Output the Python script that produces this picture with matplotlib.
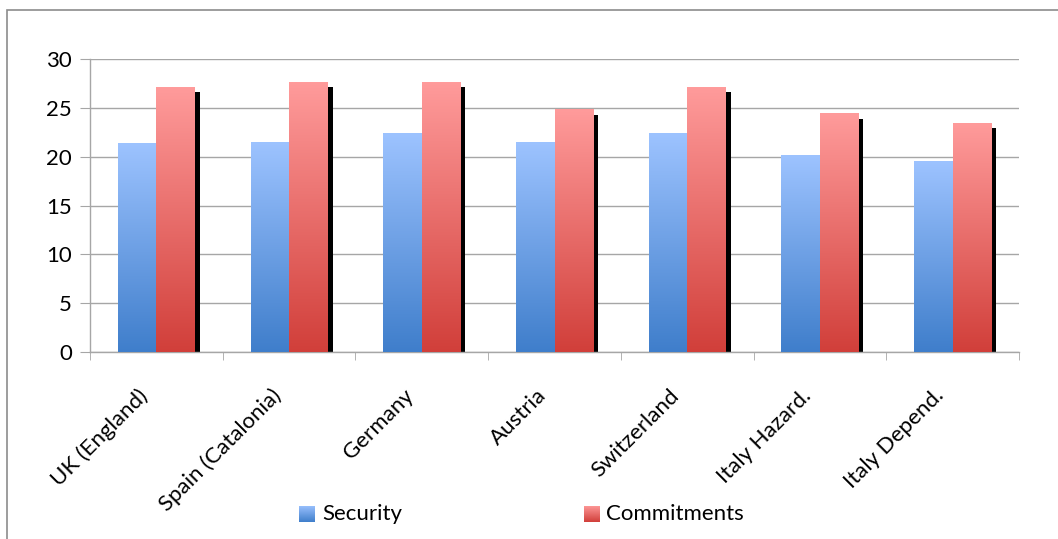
import numpy as np
import matplotlib
matplotlib.use("Agg")
import matplotlib.pyplot as plt
from matplotlib.colors import LinearSegmentedColormap
from matplotlib.patches import Rectangle

plt.rcParams['font.family'] = ['Lato', 'DejaVu Sans']

# data
countries = ["UK (England)", "Spain (Catalonia)", "Germany", "Austria",
             "Switzerland", "Italy Hazard.", "Italy Depend."]
security = [21.3, 21.5, 22.4, 21.5, 22.4, 20.1, 19.5]
commitments = [27.1, 27.6, 27.6, 24.8, 27.1, 24.4, 23.4]
series_names = ["Security", "Commitments"]

W, H = 1058, 539
FS = 16
fig = plt.figure(figsize=(W / 100, H / 100), dpi=100)
ax = fig.add_axes([90 / W, 1 - 352 / H, (1019 - 90) / W, (352 - 59) / H])

blue_cm = LinearSegmentedColormap.from_list("blue", ["#3f7ecb", "#9dc3ff"])
red_cm = LinearSegmentedColormap.from_list("red", ["#d13f3a", "#ff9b9b"])
grad = np.linspace(0, 1, 256).reshape(-1, 1)

x = np.arange(len(countries))
bw = 0.29

# shadow behind the commitments bars
ax.bar(x + bw / 2 + 0.038, np.array(commitments) - 0.5, width=bw,
       color="black", zorder=2)

for xi, s, c in zip(x, security, commitments):
    ax.imshow(grad, extent=[xi - bw, xi, 0, s], origin="lower",
              aspect="auto", cmap=blue_cm, zorder=3)
    ax.imshow(grad, extent=[xi, xi + bw, 0, c], origin="lower",
              aspect="auto", cmap=red_cm, zorder=3)

ax.set_xlim(-0.5, len(countries) - 0.5)
ax.set_ylim(0, 30)
ax.set_yticks(range(0, 31, 5))
ax.yaxis.grid(True, color="#a6a6a6", linewidth=1)
ax.set_axisbelow(True)

for side in ["top", "right"]:
    ax.spines[side].set_visible(False)
for side in ["left", "bottom"]:
    ax.spines[side].set_color("#a6a6a6")
    ax.spines[side].set_linewidth(1)

ax.tick_params(axis="y", length=7, color="#a6a6a6", labelsize=FS, pad=6)
ax.set_xticks(x - 0.14)
ax.set_xticklabels(countries, rotation=45, ha="right", va="top",
                   rotation_mode="anchor", fontsize=FS)
ax.tick_params(axis="x", length=0, pad=24)
ax.set_xticks(np.arange(-0.5, len(countries)), minor=True)
ax.tick_params(axis="x", which="minor", length=6, color="#a6a6a6")

# legend
for (x0, txt_x), name, cm in zip([(299, 322), (584, 606)], series_names,
                                 [blue_cm, red_cm]):
    lax = fig.add_axes([x0 / W, 1 - 522 / H, 16 / W, 16 / H])
    lax.imshow(grad, origin="lower", aspect="auto", cmap=cm)
    lax.axis("off")
    fig.text(txt_x / W, 1 - 514 / H, name, fontsize=FS, va="center")

# outer chart border
fig.patches.append(Rectangle((7 / W, -0.1), 1.2, 1.1 - 10 / H,
                             transform=fig.transFigure, fill=False,
                             edgecolor="#8c8c8c", linewidth=1.2))

fig.savefig("out.png", dpi=100)
